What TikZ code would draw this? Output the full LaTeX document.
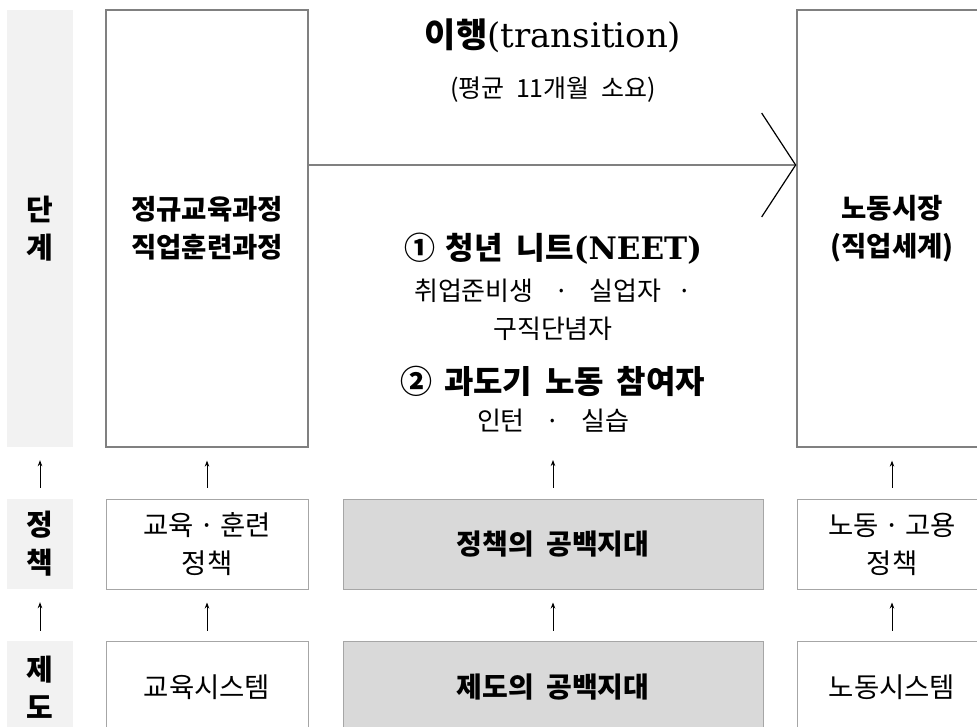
\documentclass[tikz,border=0pt]{standalone}
\usepackage{fontspec}
\setmainfont{Noto Sans CJK KR}
\newfontfamily\latinserif{DejaVu Serif}
\usetikzlibrary{arrows.meta}
\definecolor{boxline}{HTML}{808080}
\definecolor{thinline}{HTML}{A6A6A6}
\definecolor{labelfill}{HTML}{F2F2F2}
\definecolor{gapfill}{HTML}{D9D9D9}
\newcommand{\fsz}[2]{\fontsize{#1}{#2}\selectfont}

\begin{document}
\begin{tikzpicture}[x=1pt,y=-1pt,
    rowlabel/.style={fill=labelfill,minimum width=66pt,align=center,font=\fsz{29}{38}\bfseries},
    stagebox/.style={draw=boxline,line width=1.3pt,minimum height=437pt,align=center,font=\fsz{27.5}{38}\bfseries},
    smallbox/.style={draw=thinline,line width=1pt,align=center,font=\fsz{27.5}{38}},
    gapbox/.style={smallbox,fill=gapfill,minimum width=420pt,font=\fsz{28}{38}\bfseries},
    uparrow/.style={line width=0.8pt,-{Stealth[length=6pt,width=4.5pt]}}]
  \useasboundingbox (0,0) rectangle (977,727);
  \clip (0,0) rectangle (977,727);

  % row labels
  \node[rowlabel,minimum height=437pt] (lstage) at (40,228.5) {단\\계};
  \node[rowlabel,minimum height=90pt] (lpolicy) at (40,544) {정\\책};
  \node[rowlabel,minimum height=92pt] (linst) at (40,687) {제\\도};

  % stage row
  \node[stagebox,minimum width=202pt] (school) at (207,228.5) {정규교육과정\\직업훈련과정};
  \node[stagebox,minimum width=190pt] (market) at (892,228.5) {노동시장\\(직업세계)};
  \coordinate (flow) at (553,165);
  \coordinate (gap) at (553,447);
  \draw[boxline,line width=1.2pt,-{Straight Barb[color=black,length=34pt,width=104pt]}]
    (school.east |- flow) -- (market.west |- flow);

  \node[font=\fsz{34}{40}] (title) at (553,36) {\textbf{이행}{\latinserif (transition)}};
  \node[font=\fsz{25}{30}] (avg) at (553,90) {(평균\hspace{0.45em}11개월\hspace{0.45em}소요)};
  \node[font=\fsz{31}{36}\bfseries] (neet) at (553,249)
    {①\hspace{0.35em}청년\hspace{0.45em}니트{\latinserif (NEET)}};
  \node[font=\fsz{26}{38},align=center] (neetsub) at (553,310)
    {취업준비생\hspace{0.8em}·\hspace{0.8em}실업자\hspace{0.6em}·\\구직단념자};
  \node[font=\fsz{32}{36}\bfseries] (trans) at (553,381)
    {②\hspace{0.35em}과도기\hspace{0.4em}노동\hspace{0.4em}참여자};
  \node[font=\fsz{26}{30}] (transsub) at (553,421) {인턴\hspace{0.8em}·\hspace{0.8em}실습};

  % policy row
  \node[smallbox,minimum width=202pt,minimum height=90pt] (eduPolicy) at (207,544) {교육\hspace{0.2em}·\hspace{0.2em}훈련\\정책};
  \node[gapbox,minimum height=90pt] (policyGap) at (553,544) {정책의\hspace{0.45em}공백지대};
  \node[smallbox,minimum width=190pt,minimum height=90pt] (labPolicy) at (892,544) {노동\hspace{0.2em}·\hspace{0.2em}고용\\정책};

  % institution row
  \node[smallbox,minimum width=202pt,minimum height=92pt] (eduSys) at (207,687) {교육시스템};
  \node[gapbox,minimum height=92pt] (instGap) at (553,687) {제도의\hspace{0.45em}공백지대};
  \node[smallbox,minimum width=190pt,minimum height=92pt] (labSys) at (892,687) {노동시스템};

  % arrows
  \foreach \a/\b in {lpolicy/lstage,eduPolicy/school,labPolicy/market}
    \draw[uparrow,shorten <=11pt,shorten >=13pt] (\a.north) -- (\b.south);
  \draw[uparrow,shorten <=11pt,shorten >=13pt] (policyGap.north) -- (gap);
  \foreach \a/\b in {linst/lpolicy,eduSys/eduPolicy,instGap/policyGap,labSys/labPolicy}
    \draw[uparrow,shorten <=10pt,shorten >=13pt] (\a.north) -- (\b.south);
\end{tikzpicture}
\end{document}
